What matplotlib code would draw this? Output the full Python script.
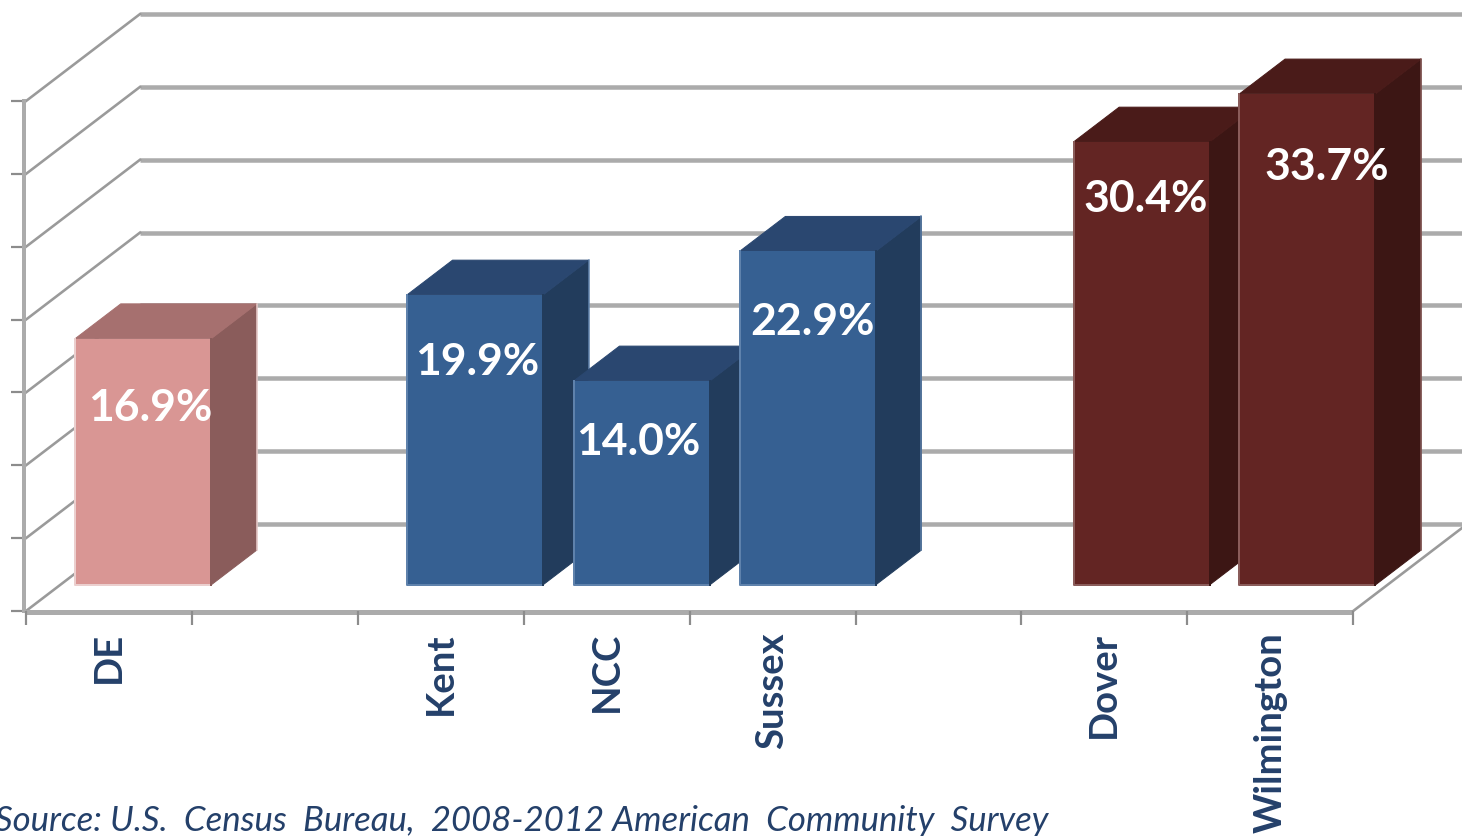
import numpy as np
import matplotlib
matplotlib.use("Agg")
import matplotlib.pyplot as plt
from matplotlib.patches import Polygon

W, H = 1462, 836

# Eight category slots, two of them empty gaps between groups
tick_labels = ["DE", "", "Kent", "NCC", "Sussex", "", "Dover", "Wilmington"]
values = [16.9, np.nan, 19.9, 14.0, 22.9, np.nan, 30.4, 33.7]
value_labels = ["16.9%", "", "19.9%", "14.0%", "22.9%", "", "30.4%", "33.7%"]
grid_values = [0, 5, 10, 15, 20, 25, 30, 35]
source = "Source: U.S.  Census  Bureau,  2008-2012 American  Community  Survey"

# front, top, side, edge
pink = ("#D99694", "#A6706F", "#8A5C5B", "#EBCFCE")
blue = ("#366092", "#2A4770", "#223C5C", "#5F82AC")
maroon = ("#632523", "#4A1B19", "#3C1614", "#8A5C5A")
slot_colors = [pink, None, blue, blue, blue, None, maroon, maroon]

# nudges in pixels, bars and labels do not sit exactly on the slot centres
bar_dx = [0, 0, 0, 1, 1, 0, 3, 3]
label_dx = [7, 0, 2, -4, 5, 0, 4, 19]
label_dy = [69, 0, 67, 61, 71, 0, 57, 73]

slot_px = 165.9
unit_px = 14.57
x0_px, y0_px = 26, 611
depth_x = 114 / slot_px
depth_y = 87 / unit_px
bar_w = 136 / slot_px

fig = plt.figure(figsize=(W / 100, H / 100), dpi=100)
ax = fig.add_axes([0, 0, 1, 1])
ax.set_xlim(-x0_px / slot_px, (W - x0_px) / slot_px)
ax.set_ylim((y0_px - H) / unit_px, y0_px / unit_px)
ax.axis("off")

n = len(values)
GRID = "#ABABAB"
DARK = "#8C8C8C"


def proj(x, y, d):
    return (x + d * depth_x, y + d * depth_y)


def px(p):
    return p * 0.72


# back wall and left wall gridlines
for g in grid_values:
    a = proj(0, g, 0)
    b = proj(0, g, 1)
    c = proj(n + 1, g, 1)
    ax.plot([b[0], c[0]], [b[1], c[1]], color=GRID, lw=px(4.5), solid_capstyle="butt", zorder=1)
    ax.plot([a[0], b[0]], [a[1], b[1]], color="#9A9A9A", lw=px(2.6), zorder=1)
    ax.plot([-15 / slot_px, 0], [g, g], color=DARK, lw=px(2.2), solid_capstyle="butt", zorder=2)

# left axis, floor front edge, right floor edge, slot ticks
ax.plot([-2 / slot_px] * 2, [grid_values[0], grid_values[-1]], color=GRID, lw=px(4), zorder=2)
ax.plot([0, n], [-0.08, -0.08], color=GRID, lw=px(5), solid_capstyle="butt", zorder=2)
a = proj(n, 0, 0)
b = proj(n, 0, 1)
ax.plot([a[0], b[0]], [a[1], b[1]], color="#9A9A9A", lw=px(2.6), zorder=2)
for i in range(n + 1):
    ax.plot([i, i], [0, -14 / unit_px], color=DARK, lw=px(2.2), solid_capstyle="butt", zorder=3)

# bars, left to right so each one covers the side of the previous
z = 4
d1, d2 = 0.3, 0.7
for i, v in enumerate(values):
    if np.isnan(v):
        continue
    front, top, side, edge = slot_colors[i]
    x1 = i + (1 - bar_w) / 2 + bar_dx[i] / slot_px
    x2 = x1 + bar_w
    face = [proj(x1, 0, d1), proj(x2, 0, d1), proj(x2, v, d1), proj(x1, v, d1)]
    roof = [proj(x1, v, d1), proj(x2, v, d1), proj(x2, v, d2), proj(x1, v, d2)]
    wall = [proj(x2, 0, d1), proj(x2, 0, d2), proj(x2, v, d2), proj(x2, v, d1)]
    ax.add_patch(Polygon(wall, closed=True, fc=side, ec=side, lw=px(1), zorder=z))
    ax.add_patch(Polygon(roof, closed=True, fc=top, ec=top, lw=px(1), zorder=z))
    ax.add_patch(Polygon(face, closed=True, fc=front, ec=front, lw=px(1), zorder=z))
    # lighter rim on the left and bottom of the front, and the far side
    rim = [face[3], face[0], face[1]]
    ax.plot([p[0] for p in rim], [p[1] for p in rim], color=edge, lw=px(2), zorder=z)
    ax.plot([wall[1][0], wall[2][0]], [wall[1][1], wall[2][1]], color=edge, lw=px(1.5), zorder=z)
    # darker band where the front meets the side
    ax.plot([face[1][0], face[2][0]], [face[1][1], face[2][1]], color=side, lw=px(2), zorder=z)
    cx = proj((x1 + x2) / 2, v, d1)
    ax.text(cx[0] + label_dx[i] / slot_px, cx[1] - label_dy[i] / unit_px,
            value_labels[i], color="white", fontsize=32, fontweight="bold", family="Lato",
            ha="center", va="center", zorder=20)
    z += 1

# category names
for i, name in enumerate(tick_labels):
    if name:
        ax.text(i + 0.5, -21 / unit_px, name, rotation=90, ha="center", va="top",
                color="#24406A", fontsize=27.5, fontweight="bold", family="Lato", zorder=20)

ax.text(-31 / slot_px, -(821 - y0_px) / unit_px, source, style="italic", color="#24406A",
        fontsize=25, family="Lato", ha="left", va="center", zorder=20)

fig.savefig("out.png", dpi=100)
